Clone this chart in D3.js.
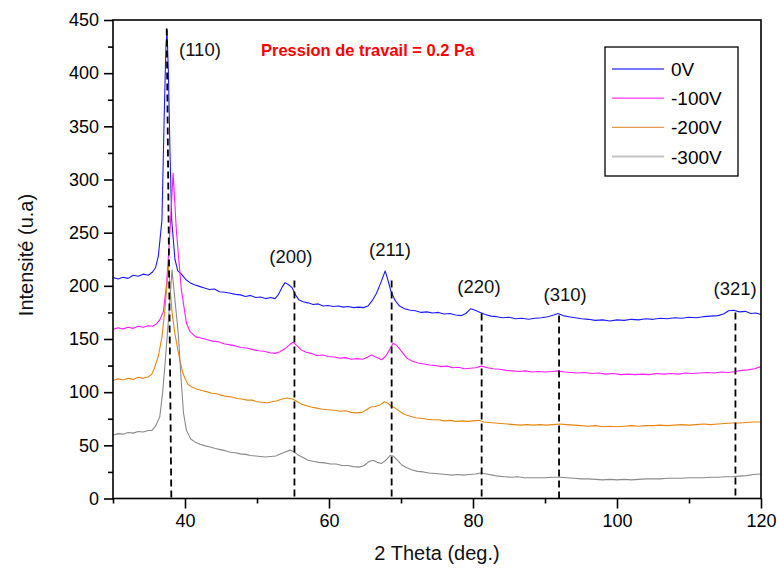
<!DOCTYPE html>
<html>
<head>
<meta charset="utf-8">
<script src="https://cdn.jsdelivr.net/npm/d3@7"></script>
<style>
  html, body { margin: 0; padding: 0; background: #fff; }
  svg { display: block; font-family: "Liberation Sans", Arial, sans-serif; }
</style>
</head>
<body>
<svg id="chart" width="778" height="573"></svg>
<script>
// ---------- DATA ----------
const seriesNames = ["0V", "-100V", "-200V", "-300V"];
const seriesColors = ["#1a1aff", "#ff1aff", "#e8860f", "#8a8a8a"];
const legendColors = ["#4a4aff", "#ff33ff", "#e59a50", "#c4c4c4"];

const series0V = [
 [30,208],[30.7,206.5],[31.4,208],[32.1,207],[32.8,210],[33.5,209],[34.2,211],[34.9,210],[35.5,213],[35.9,217],
 [36.3,228],[36.8,262],[37.1,356],[37.35,425],[37.5,440],[37.7,400],[37.9,330],[38.15,262],[38.6,225],[39.0,214],
 [39.5,211],[40.1,206],[40.7,203],[41.3,201],[42,199.5],[42.7,198],[43.4,196.5],[44.1,197],[44.8,194.5],[45.5,194],
 [46.3,193],[47,192],[47.7,191.5],[48.4,190],[49.1,191],[49.8,189],[50.5,189.5],[51.2,188],[51.9,189],[52.5,188],
 [53.0,192],[53.5,199],[53.9,203],[54.4,201],[54.9,198],[55.3,192],[55.8,187],[56.4,185],[57.1,184],[57.8,182.5],
 [58.5,183],[59.2,181],[59.9,181.5],[60.6,180.5],[61.3,181],[62,180],[62.7,180.5],[63.4,179.5],[64.1,180],[64.8,179.5],
 [65.4,181],[66,186],[66.6,193],[67.2,203],[67.8,214],[68.2,205],[68.6,195],[69.2,186],[69.8,181],[70.5,178.5],
 [71.3,177],[72,176.5],[72.8,175],[73.6,175.5],[74.4,174.5],[75.2,175],[76,173.5],[76.8,174],[77.6,172.5],[78.4,172],
 [79.0,174],[79.7,178.5],[80.3,177],[81.0,175],[81.7,173],[82.5,171.5],[83.3,171],[84.1,170],[85,170.5],[85.9,169],
 [86.8,169.5],[87.7,168.5],[88.6,169.5],[89.5,170],[90.4,171],[91.2,172.5],[91.8,174],[92.5,172],[93.3,171],[94.2,170],
 [95.1,169],[96,168.5],[97,167.5],[98,168],[99,167],[100,168],[101,167.5],[102,168.5],[103,168],[104,169],
 [105,168.5],[106,169.5],[107,169],[108,170],[109,169.5],[110,170.5],[111,170],[112,171],[113,171.5],[114,172],
 [114.8,173.5],[115.5,176.5],[116.2,177],[117,175.5],[117.8,176],[118.6,174],[119.3,174.5],[120,173]
];
const series100V = [
 [30,159],[30.7,160.5],[31.4,159.5],[32.1,161],[32.8,160],[33.5,162],[34.2,161],[34.9,162.5],[35.5,162],[36,164],
 [36.5,168],[37,176],[37.45,202],[37.9,250],[38.35,306],[38.8,252],[39.5,196],[40.2,165],[40.7,157],[41.5,152],
 [42.2,151],[43,149.5],[43.8,148],[44.6,147.5],[45.4,145.5],[46.2,144.5],[47,143.5],[47.8,142],[48.6,141.5],[49.4,140],
 [50.2,139],[51,138.5],[51.8,137],[52.5,136.5],[53.2,138],[53.9,141],[54.6,145],[55.0,147],[55.5,144],[56.1,140],
 [56.8,137.5],[57.5,136.5],[58.3,134.5],[59.1,135],[59.9,133.5],[60.7,133],[61.5,132],[62.3,132.5],[63.1,131],[63.9,131.5],
 [64.7,131],[65.4,133],[65.9,135],[66.5,133],[67.3,130.5],[67.9,134],[68.5,141],[68.9,146],[69.4,144],[70,139],
 [70.8,132],[71.6,129],[72.4,127.5],[73.2,126.5],[74,125.5],[74.8,125],[75.6,124],[76.4,124.5],[77.2,123],[78,123.5],
 [78.8,122],[79.6,122.5],[80.4,123],[81.2,124.5],[82,123],[82.8,122],[83.7,121.5],[84.6,120.5],[85.5,120],[86.4,119.5],
 [87.3,120],[88.2,119],[89.1,119.5],[90,119],[91,119.5],[91.8,120],[92.7,119],[93.6,118.5],[94.5,118],[95.5,118.5],
 [96.5,117.5],[97.5,118],[98.5,117],[99.5,117.5],[100.5,116.5],[101.5,117],[102.5,116.5],[103.5,117],[104.5,116.5],[105.5,117.5],
 [106.5,117],[107.5,117.5],[108.5,117],[109.5,118],[110.5,117.5],[111.5,118],[112.5,118.5],[113.5,118],[114.5,119],[115.5,118.5],
 [116.4,119.5],[117.3,120.5],[118.2,121],[119.1,122],[120,124]
];
const series200V = [
 [30,111],[30.7,112.5],[31.4,111.5],[32.1,113],[32.8,112],[33.5,114],[34.2,113],[34.9,114.5],[35.4,117],[35.8,123.5],
 [36.3,134],[36.8,152],[37.2,177],[37.7,218],[38.2,175],[38.6,155],[39.0,140],[39.3,130],[39.7,118],[40.0,113],
 [40.4,107.5],[40.9,105],[41.6,103],[42.3,101.5],[43,100.5],[43.7,99],[44.4,98.5],[45.1,97],[45.8,96],[46.5,95.5],
 [47.2,94],[47.9,93.5],[48.6,92.5],[49.3,92.5],[50,91],[50.7,90.5],[51.4,90],[52.1,91],[52.8,92],[53.5,93.5],
 [54.2,94.5],[54.9,93.5],[55.4,92],[56.1,89],[56.8,87.5],[57.5,86],[58.3,85],[59.1,84],[59.9,83.5],[60.7,83],
 [61.5,82],[62.3,82.5],[63.1,81],[63.9,80.5],[64.6,81],[65.2,83.5],[65.8,86],[66.4,86.5],[67.1,88],[67.7,91],
 [68.2,89.5],[68.6,87],[69.2,85],[69.8,82],[70.5,79],[71.2,77.5],[72,76],[72.8,75.5],[73.6,74.5],[74.4,74],
 [75.2,74],[76,73],[76.8,73.5],[77.6,72.5],[78.4,73],[79.2,72.5],[80,73],[80.8,73.5],[81.5,72],[82.3,71.5],
 [83.1,71],[83.9,70.5],[84.8,70],[85.7,69.5],[86.6,69],[87.5,69.5],[88.4,69],[89.3,69.5],[90.2,69],[91.1,69.5],
 [92,70],[93,69.5],[94,69],[95,68.5],[96,68],[97,68.5],[98,67.5],[99,68],[100,67.5],[101,68],
 [102,68.5],[103,68],[104,68.5],[105,68.5],[106,69],[107,68.5],[108,69],[109,69.5],[110,69],[111,69.5],
 [112,70],[113,69.5],[114,70],[115,70.5],[116,71],[117,71],[118,71.5],[119,72],[120,72]
];
const series300V = [
 [30,59.5],[30.7,61],[31.4,60.5],[32.1,62],[32.8,61.5],[33.5,63],[34.2,62.5],[34.9,64],[35.4,64],[35.9,68],
 [36.5,77],[36.9,100],[37.2,124],[37.8,177],[38.2,215],[38.7,180],[39.07,155],[39.5,108],[39.8,80],[40.2,64],
 [40.8,56],[41.4,53],[42.1,51],[42.8,49.5],[43.5,48.5],[44.2,47],[44.9,46],[45.6,45],[46.3,43.5],[47,43],
 [47.7,42],[48.4,41.5],[49.1,40.5],[49.8,40],[50.5,39.5],[51.2,39],[51.9,39.5],[52.6,40],[53.3,42],[54,44],
 [54.6,45.5],[55.1,44],[55.7,41],[56.4,38.5],[57.1,36],[57.8,35],[58.6,34],[59.4,33.5],[60.2,32.5],[61,32.5],
 [61.8,31],[62.6,31],[63.4,30],[64.2,29.5],[64.9,31],[65.5,34.5],[66.1,36],[66.7,34],[67.3,33],[67.9,36],
 [68.5,40.5],[68.9,40],[69.5,36],[70.1,31.5],[70.8,29],[71.5,27],[72.3,25.5],[73.1,25],[73.9,24],[74.7,23.5],
 [75.5,23],[76.3,22.5],[77.1,22],[77.9,22.5],[78.7,22],[79.5,22.5],[80.3,23],[81.1,24],[81.9,23],[82.7,22],
 [83.5,21],[84.4,20.5],[85.3,20],[86.2,20.5],[87.1,19.5],[88,19.5],[89,19.5],[90,19.5],[91,20],[92,20],
 [93,19.5],[94,19],[95,18.5],[96,18.5],[97,18],[98,17.5],[99,18],[100,17.5],[101,18],[102,17.5],
 [103,18],[104,18.5],[105,18.5],[106,18.5],[107,19],[108,19],[109,19],[110,19.5],[111,19.5],[112,19.5],
 [113,20],[114,20],[115,20.5],[116,20.5],[117,21],[118,21.5],[119,22.5],[120,23]
];

// Miller-index reference lines: label, 2θ at top, 2θ at bottom, intensity at top
const peakLabels = ["(110)", "(200)", "(211)", "(220)", "(310)", "(321)"];
const peakThetaTop = [37.46, 55.2, 68.7, 81.2, 91.95, 116.45];
const peakThetaBottom = [38.1, 55.2, 68.7, 81.2, 91.95, 116.45];
const peakTopIntensity = [442, 205, 205, 174, 172, 175];
const peakLabelTheta = [42.08, 54.7, 68.47, 80.83, 92.8, 116.4];
const peakLabelIntensity = [416, 221.5, 228, 193.2, 186, 191.4];

const xTicksMajor = [40, 60, 80, 100, 120];
const xTicksMinor = [30, 50, 70, 90, 110];
const yTicksMajor = [0, 50, 100, 150, 200, 250, 300, 350, 400, 450];
const yTicksMinor = [25, 75, 125, 175, 225, 275, 325, 375, 425];

const titleText = "Pression de travail = 0.2 Pa";
const xLabel = "2 Theta (deg.)";
const yLabel = "Intensité (u.a)";

// ---------- DRAWING ----------
const svg = d3.select("#chart");
const pLeft = 113, pRight = 761, pTop = 20, pBottom = 498.5;

const x = d3.scaleLinear().domain([30, 120]).range([pLeft, pRight]);
const y = d3.scaleLinear().domain([0, 450]).range([pBottom, pTop]);

const allSeries = [series0V, series100V, series200V, series300V];

// curves
const line = d3.line().x(d => x(d[0])).y(d => y(d[1]));
svg.append("clipPath").attr("id", "plotclip")
  .append("rect").attr("x", pLeft).attr("y", pTop).attr("width", pRight - pLeft).attr("height", pBottom - pTop);

const plot = svg.append("g").attr("clip-path", "url(#plotclip)");
allSeries.forEach((s, i) => {
  plot.append("path").datum(s)
    .attr("d", line)
    .attr("fill", "none")
    .attr("stroke", seriesColors[i])
    .attr("stroke-width", 1.1)
    .attr("stroke-linejoin", "round");
});

// dashed reference lines
peakLabels.forEach((lab, i) => {
  svg.append("line")
    .attr("x1", x(peakThetaTop[i])).attr("y1", y(peakTopIntensity[i]))
    .attr("x2", x(peakThetaBottom[i])).attr("y2", y(0))
    .attr("stroke", "#000").attr("stroke-width", 1.8)
    .attr("stroke-dasharray", "7,4");
  svg.append("text")
    .attr("x", x(peakLabelTheta[i])).attr("y", y(peakLabelIntensity[i]))
    .attr("text-anchor", "middle")
    .attr("font-size", 18.5)
    .attr("fill", "#111")
    .text(lab);
});

// axes
const xAxisMajor = d3.axisBottom(x).tickValues(xTicksMajor).tickSize(10).tickPadding(6).tickFormat(d3.format("d"));
const xAxisMinor = d3.axisBottom(x).tickValues(xTicksMinor).tickSize(5).tickFormat("");
const yAxisMajor = d3.axisLeft(y).tickValues(yTicksMajor).tickSize(9).tickPadding(5).tickFormat(d3.format("d"));
const yAxisMinor = d3.axisLeft(y).tickValues(yTicksMinor).tickSize(5).tickFormat("");

function styleAxis(g) {
  g.select(".domain").remove();
  g.selectAll(".tick line").attr("stroke", "#000").attr("stroke-width", 1.6);
  g.selectAll(".tick text").attr("font-size", 18).attr("fill", "#000")
    .attr("font-family", "'Liberation Sans', Arial, sans-serif");
}
svg.append("g").attr("transform", `translate(0,${pBottom})`).call(xAxisMinor).call(styleAxis);
svg.append("g").attr("transform", `translate(0,${pBottom})`).call(xAxisMajor).call(styleAxis);
svg.append("g").attr("transform", `translate(${pLeft},0)`).call(yAxisMinor).call(styleAxis);
svg.append("g").attr("transform", `translate(${pLeft},0)`).call(yAxisMajor).call(styleAxis);

// frame
svg.append("rect").attr("x", pLeft).attr("y", pTop).attr("width", pRight - pLeft).attr("height", pBottom - pTop)
  .attr("fill", "none").attr("stroke", "#000").attr("stroke-width", 1.6);

// axis titles
svg.append("text").attr("x", (pLeft + pRight) / 2).attr("y", 560)
  .attr("text-anchor", "middle").attr("font-size", 20).attr("fill", "#111").text(xLabel);
svg.append("text").attr("transform", `translate(33,255) rotate(-90)`)
  .attr("text-anchor", "middle").attr("font-size", 20).attr("fill", "#111").text(yLabel);

// annotation title
svg.append("text").attr("x", 261).attr("y", 56)
  .attr("font-size", 16.5).attr("font-weight", "bold").attr("fill", "#ff0000").text(titleText);

// legend
const lg = svg.append("g");
lg.append("rect").attr("x", 605).attr("y", 47).attr("width", 133).attr("height", 129)
  .attr("fill", "#fff").attr("stroke", "#000").attr("stroke-width", 1.3);
seriesNames.forEach((n, i) => {
  const yy = 69 + i * 29.2;
  lg.append("line").attr("x1", 612).attr("x2", 664).attr("y1", yy).attr("y2", yy)
    .attr("stroke", legendColors[i]).attr("stroke-width", i === 3 ? 2 : 1.3);
  lg.append("text").attr("x", 671).attr("y", yy + 7).attr("font-size", 19).attr("fill", "#000").text(n);
});
</script>
</body>
</html>
